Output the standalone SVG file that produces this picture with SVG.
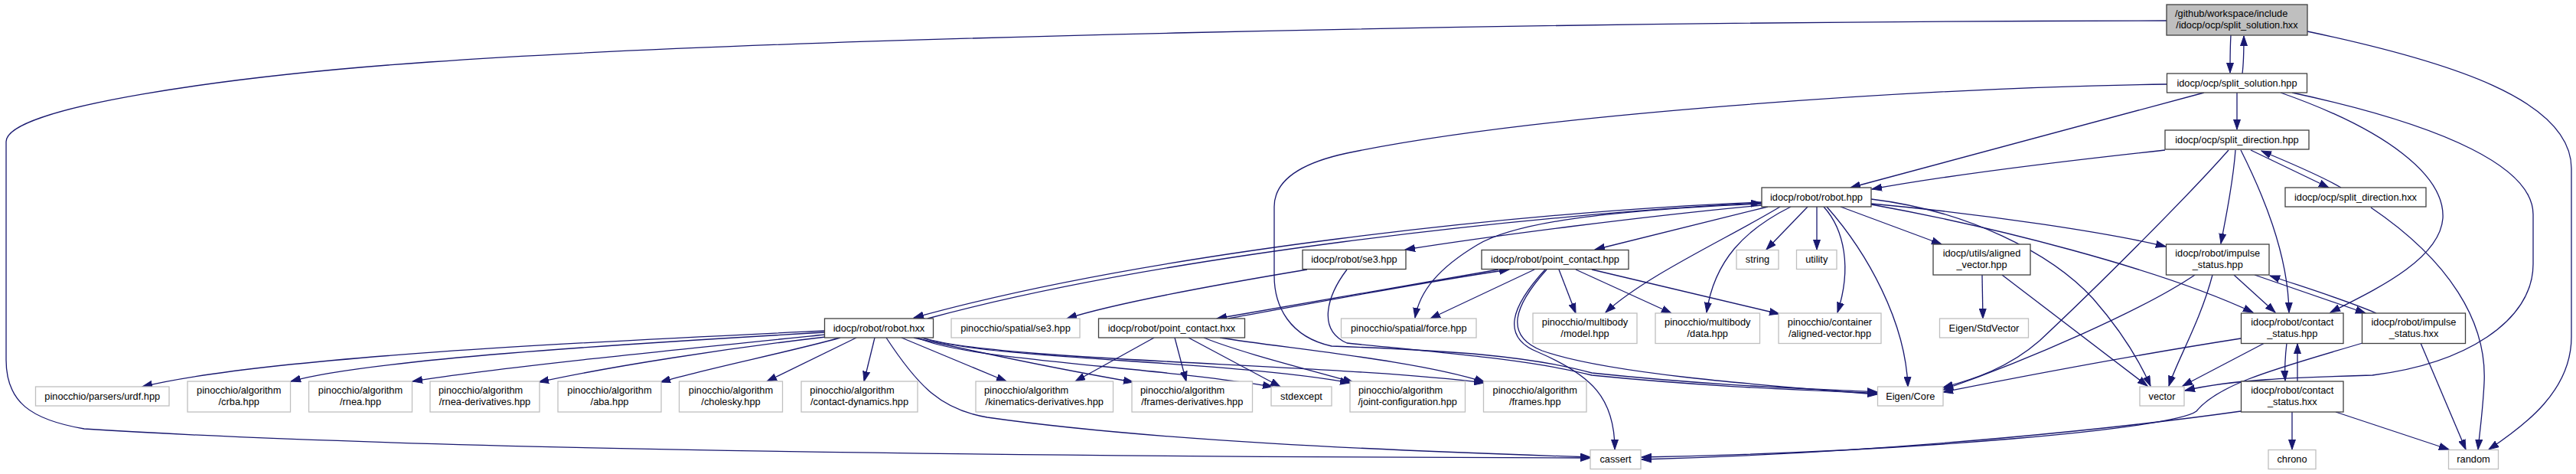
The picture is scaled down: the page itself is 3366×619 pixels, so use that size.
<svg xmlns="http://www.w3.org/2000/svg" width="3366" height="619" viewBox="0 0 3366 619">
<style>
.d{fill:#fff;stroke:#404040;stroke-width:1.3}
.x{fill:#fff;stroke:#bfbfbf;stroke-width:1.3}
.r{fill:#bfbfbf;stroke:#404040;stroke-width:1.3}
text{font-family:"Liberation Sans",Arial,Helvetica,sans-serif;font-size:12.8px;fill:#000}
.c{text-anchor:middle}
#edges path{fill:none;stroke:#191970;stroke-width:1.3;marker-end:url(#arr)}
</style>
<defs>
<marker id="arr" markerUnits="userSpaceOnUse" markerWidth="14" markerHeight="10" viewBox="0 0 14 10" refX="13" refY="5" orient="auto"><path d="M0,0.5 L13,5 L0,9.5 z" fill="#191970" stroke="#191970" stroke-width="1"/></marker>
</defs>
<rect width="3366" height="619" fill="#fff"/>
<g id="edges">
<path d="M2915,46 C2914,62 2914,78 2914,95"/>
<path d="M2930,96 C2932,80 2932,64 2932,47"/>
<path d="M2831,27 C2000,28 1000,50 561,81 C300,99 8,140 8,185 L8,470 C8,525 40,548 110,560 C500,585 1200,596 2078,598"/>
<path d="M3015,41 C3200,80 3360,130 3360,220 L3360,440 C3360,510 3300,555 3252,587"/>
<path d="M2923,121 L2923,169"/>
<path d="M2880,121 L2418,245"/>
<path d="M2831,110 C2500,115 2000,150 1760,200 C1690,215 1665,240 1665,270 L1665,360 C1665,400 1685,440 1740,452 C1900,458 2000,465 2080,487 C2250,505 2380,508 2453,512"/>
<path d="M2980,121 C3120,170 3195,230 3192,285 C3188,340 3100,380 3045,408"/>
<path d="M2995,121 C3200,165 3310,220 3310,280 L3310,345 C3310,420 3220,475 3100,490 C3000,493 2920,495 2855,510"/>
<path d="M2829,196 C2700,210 2550,228 2446,247"/>
<path d="M2912,196 C2860,255 2740,375 2665,445 C2625,480 2580,495 2539,506"/>
<path d="M2921,196 C2918,240 2908,285 2902,318"/>
<path d="M2928,196 C2955,250 2990,330 2991,408"/>
<path d="M2941,196 L3043,245"/>
<path d="M3059,245 C3030,228 2990,212 2955,197"/>
<path d="M3098,271 C3200,340 3250,420 3246,500 C3244,540 3240,565 3238,587"/>
<path d="M2868,359 C2800,405 2650,470 2539,509"/>
<path d="M2891,359 C2875,420 2845,470 2834,504"/>
<path d="M2919,359 L2973,408"/>
<path d="M2946,359 L3091,409"/>
<path d="M3105,409 C3060,390 3010,375 2966,360"/>
<path d="M3087,448 C2980,480 2900,500 2870,537 C2840,560 2500,590 2145,597"/>
<path d="M2928,537 C2800,555 2500,590 2145,600"/>
<path d="M2928,442 C2800,462 2650,490 2539,512"/>
<path d="M2959,448 L2852,504"/>
<path d="M2988,448 C2986,465 2985,480 2986,497"/>
<path d="M3002,498 L3002,449"/>
<path d="M2995,538 L2995,587"/>
<path d="M3052,538 L3200,587"/>
<path d="M3163,448 L3222,587"/>
<path d="M2590,359 L2591,416"/>
<path d="M2616,359 L2806,504"/>
<path d="M2302,264 C2000,275 1500,330 1194,415"/>
<path d="M1212,416 C1510,335 2000,280 2301,265"/>
<path d="M2302,268 C2150,282 1950,308 1836,326"/>
<path d="M2302,266 C2100,275 1980,290 1930,320 C1880,350 1855,380 1849,415"/>
<path d="M2310,270 L2084,326"/>
<path d="M2326,270 C2260,310 2150,360 2098,408"/>
<path d="M2340,270 C2280,300 2240,340 2230,408"/>
<path d="M2362,270 L2308,326"/>
<path d="M2374,270 L2374,326"/>
<path d="M2383,270 C2410,300 2420,350 2401,408"/>
<path d="M2387,270 C2440,330 2490,420 2493,505"/>
<path d="M2405,270 L2537,319"/>
<path d="M2445,260 C2570,275 2680,330 2735,390 C2770,430 2795,470 2810,504"/>
<path d="M2445,267 C2600,295 2820,350 2944,408"/>
<path d="M2445,266 C2600,280 2760,305 2830,322"/>
<path d="M1708,352 C1600,370 1460,395 1394,416"/>
<path d="M1760,352 C1735,385 1720,430 1760,448 C1900,462 2000,470 2080,490 C2250,507 2380,510 2453,513.5"/>
<path d="M2005,352 L1869,416"/>
<path d="M2019,352 C1975,400 1960,440 2010,460 C2080,490 2110,520 2110,587"/>
<path d="M2021,352 C1978,400 1965,438 2015,458 C2100,488 2300,503 2453,515"/>
<path d="M2037,352 L2059,409"/>
<path d="M2059,352 L2184,409"/>
<path d="M2080,352 L2325,410"/>
<path d="M1958,352 C1800,380 1680,400 1590,416"/>
<path d="M1605,416 C1720,395 1850,370 1972,352"/>
<path d="M1508,441 L1405,498"/>
<path d="M1535,441 L1550,498"/>
<path d="M1553,441 L1673,505"/>
<path d="M1573,441 C1620,460 1700,480 1768,499"/>
<path d="M1594,441 C1680,455 1850,470 1940,499"/>
<path d="M1078,432 C800,445 350,465 186,505"/>
<path d="M1078,434 C800,450 480,470 380,498"/>
<path d="M1078,437 C900,455 650,480 539,498"/>
<path d="M1079,440 C950,455 800,478 704,499"/>
<path d="M1098,441 C1030,460 920,482 863,499"/>
<path d="M1119,441 L1002,498"/>
<path d="M1143,441 L1129,498"/>
<path d="M1178,441 L1315,498"/>
<path d="M1194,441 C1300,465 1400,485 1481,499"/>
<path d="M1158,441 C1200,505 1230,535 1290,545 C1500,575 1800,588 2078,597"/>
<path d="M1199,441 C1260,470 1500,478 1663,505"/>
<path d="M1204,441 C1290,470 1600,470 1764,500"/>
<path d="M1206,441 C1300,472 1750,475 1939,500"/>
</g>
<g id="n_root"><rect class="r" x="2831" y="6" width="184" height="40"/><text x="2842" y="22">/github/workspace/include</text><text class="c" x="2923" y="37">/idocp/ocp/split_solution.hxx</text></g>
<g id="n_split_solution_hpp"><rect class="d" x="2831.5" y="96" width="183" height="25"/><text class="c" x="2923" y="112.5">idocp/ocp/split_solution.hpp</text></g>
<g id="n_split_direction_hpp"><rect class="d" x="2829" y="170" width="188" height="25"/><text class="c" x="2923" y="186.5">idocp/ocp/split_direction.hpp</text></g>
<g id="n_split_direction_hxx"><rect class="d" x="2986" y="245" width="184" height="25"/><text class="c" x="3078" y="261.5">idocp/ocp/split_direction.hxx</text></g>
<g id="n_robot_hpp"><rect class="d" x="2302" y="245" width="143" height="25"/><text class="c" x="2373.5" y="261.5">idocp/robot/robot.hpp</text></g>
<g id="n_string"><rect class="x" x="2269" y="326.5" width="55" height="25"/><text class="c" x="2296.5" y="343">string</text></g>
<g id="n_utility"><rect class="x" x="2347.5" y="326.5" width="52.5" height="25"/><text class="c" x="2373.75" y="343">utility</text></g>
<g id="n_aligned_vector_hpp"><rect class="d" x="2526" y="319" width="127" height="40"/><text class="c" x="2589.5" y="335">idocp/utils/aligned</text><text class="c" x="2589.5" y="350">_vector.hpp</text></g>
<g id="n_impulse_status_hpp"><rect class="d" x="2830.5" y="319" width="134.5" height="40"/><text class="c" x="2897.75" y="335">idocp/robot/impulse</text><text class="c" x="2897.75" y="350">_status.hpp</text></g>
<g id="n_se3_hpp"><rect class="d" x="1702" y="326.5" width="135" height="25"/><text class="c" x="1769.5" y="343">idocp/robot/se3.hpp</text></g>
<g id="n_point_contact_hpp"><rect class="d" x="1936" y="326.5" width="192" height="25"/><text class="c" x="2032" y="343">idocp/robot/point_contact.hpp</text></g>
<g id="n_robot_hxx"><rect class="d" x="1077.5" y="416" width="142" height="25"/><text class="c" x="1148.5" y="432.5">idocp/robot/robot.hxx</text></g>
<g id="n_pin_se3"><rect class="x" x="1243" y="416" width="168" height="25"/><text class="c" x="1327" y="432.5">pinocchio/spatial/se3.hpp</text></g>
<g id="n_point_contact_hxx"><rect class="d" x="1435.5" y="416" width="191" height="25"/><text class="c" x="1531" y="432.5">idocp/robot/point_contact.hxx</text></g>
<g id="n_force"><rect class="x" x="1752.5" y="416" width="176.5" height="25"/><text class="c" x="1840.75" y="432.5">pinocchio/spatial/force.hpp</text></g>
<g id="n_stdvector"><rect class="x" x="2534.5" y="416" width="116" height="25"/><text class="c" x="2592.5" y="432.5">Eigen/StdVector</text></g>
<g id="n_model"><rect class="x" x="2003" y="409" width="136" height="39.5"/><text class="c" x="2071" y="425">pinocchio/multibody</text><text class="c" x="2071" y="440">/model.hpp</text></g>
<g id="n_data"><rect class="x" x="2163" y="409" width="136.5" height="39.5"/><text class="c" x="2231.25" y="425">pinocchio/multibody</text><text class="c" x="2231.25" y="440">/data.hpp</text></g>
<g id="n_container"><rect class="x" x="2324" y="409" width="134" height="39.5"/><text class="c" x="2391" y="425">pinocchio/container</text><text class="c" x="2391" y="440">/aligned-vector.hpp</text></g>
<g id="n_contact_status_hpp"><rect class="d" x="2928.5" y="409" width="133.5" height="39.5"/><text class="c" x="2995.25" y="425">idocp/robot/contact</text><text class="c" x="2995.25" y="440">_status.hpp</text></g>
<g id="n_impulse_status_hxx"><rect class="d" x="3086.5" y="409" width="135" height="39.5"/><text class="c" x="3154" y="425">idocp/robot/impulse</text><text class="c" x="3154" y="440">_status.hxx</text></g>
<g id="n_urdf"><rect class="x" x="46.5" y="505" width="174.5" height="25"/><text class="c" x="133.75" y="521.5">pinocchio/parsers/urdf.hpp</text></g>
<g id="n_crba"><rect class="x" x="245" y="498" width="134.5" height="40"/><text class="c" x="312.25" y="514">pinocchio/algorithm</text><text class="c" x="312.25" y="529">/crba.hpp</text></g>
<g id="n_rnea"><rect class="x" x="403.5" y="498" width="135" height="40"/><text class="c" x="471" y="514">pinocchio/algorithm</text><text class="c" x="471" y="529">/rnea.hpp</text></g>
<g id="n_rnea_derivatives"><rect class="x" x="562" y="498" width="143" height="40"/><text x="573" y="514">pinocchio/algorithm</text><text class="c" x="633.5" y="529">/rnea-derivatives.hpp</text></g>
<g id="n_aba"><rect class="x" x="729" y="498" width="135" height="40"/><text class="c" x="796.5" y="514">pinocchio/algorithm</text><text class="c" x="796.5" y="529">/aba.hpp</text></g>
<g id="n_cholesky"><rect class="x" x="887.5" y="498" width="135" height="40"/><text class="c" x="955" y="514">pinocchio/algorithm</text><text class="c" x="955" y="529">/cholesky.hpp</text></g>
<g id="n_contact_dynamics"><rect class="x" x="1047" y="498" width="152" height="40"/><text x="1058.3" y="514">pinocchio/algorithm</text><text class="c" x="1123" y="529">/contact-dynamics.hpp</text></g>
<g id="n_kinematics_derivatives"><rect class="x" x="1275" y="498" width="179.5" height="40"/><text x="1286" y="514">pinocchio/algorithm</text><text class="c" x="1364.75" y="529">/kinematics-derivatives.hpp</text></g>
<g id="n_frames_derivatives"><rect class="x" x="1479" y="498" width="157.5" height="40"/><text x="1490" y="514">pinocchio/algorithm</text><text class="c" x="1557.75" y="529">/frames-derivatives.hpp</text></g>
<g id="n_stdexcept"><rect class="x" x="1661" y="505" width="79" height="25"/><text class="c" x="1700.5" y="521.5">stdexcept</text></g>
<g id="n_joint_configuration"><rect class="x" x="1764" y="498" width="150.5" height="40"/><text x="1775" y="514">pinocchio/algorithm</text><text class="c" x="1839.25" y="529">/joint-configuration.hpp</text></g>
<g id="n_frames"><rect class="x" x="1938.5" y="498" width="134.5" height="40"/><text class="c" x="2005.75" y="514">pinocchio/algorithm</text><text class="c" x="2005.75" y="529">/frames.hpp</text></g>
<g id="n_eigen_core"><rect class="x" x="2453.5" y="505" width="85.5" height="25"/><text class="c" x="2496.25" y="521.5">Eigen/Core</text></g>
<g id="n_vector"><rect class="x" x="2796" y="505" width="58" height="25"/><text class="c" x="2825" y="521.5">vector</text></g>
<g id="n_contact_status_hxx"><rect class="d" x="2928.5" y="498" width="133.5" height="40"/><text class="c" x="2995.25" y="514">idocp/robot/contact</text><text class="c" x="2995.25" y="529">_status.hxx</text></g>
<g id="n_cassert"><rect class="x" x="2078" y="587.5" width="66" height="25"/><text class="c" x="2111" y="604">cassert</text></g>
<g id="n_chrono"><rect class="x" x="2964" y="587.5" width="62" height="25"/><text class="c" x="2995" y="604">chrono</text></g>
<g id="n_random"><rect class="x" x="3199.5" y="587.5" width="65" height="25"/><text class="c" x="3232" y="604">random</text></g>
</svg>
